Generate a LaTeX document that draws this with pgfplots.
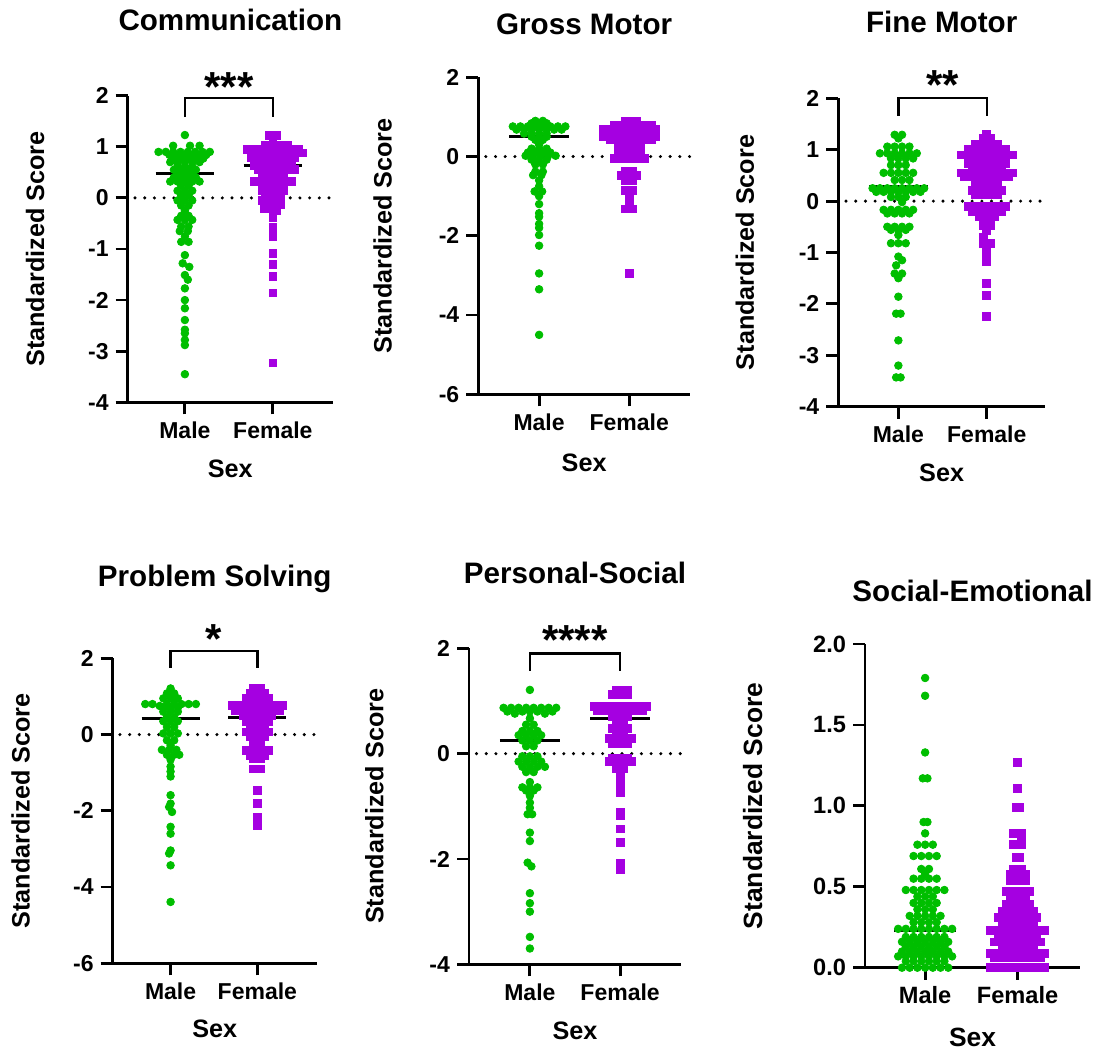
\documentclass[border=0pt]{standalone}
\usepackage{pgfplots}
\pgfplotsset{compat=1.18}
\usepackage{fontspec}
\setmainfont{Liberation Sans}
\definecolor{mgreen}{RGB}{0,190,0}
\definecolor{fpurple}{RGB}{165,0,225}
\pgfplotsset{
  sw/.style={
    scale only axis, anchor=south west,
    axis x line=bottom, axis y line=left,
    axis line style={line width=1.4pt,-},
    tick style={line width=1.4pt, black},
    major tick length=6pt, tick align=outside,
    xtick={0,12}, xticklabels={Male,Female},
    minor tick num=0,
    tick label style={font=\bfseries\fontsize{11.5}{13}\selectfont},
    xlabel={Sex}, ylabel={Standardized Score},
    label style={font=\bfseries\fontsize{12.6}{14}\selectfont},
    title style={font=\bfseries\fontsize{14.8}{17}\selectfont, anchor=base},
    ylabel style={anchor=center},
    xlabel style={anchor=base},
    clip=false,
  },
  male/.style={only marks, mark=*, mark size=1.9pt, color=mgreen, mark options={draw=mgreen, fill=mgreen}},
  female/.style={only marks, mark=square*, mark size=1.95pt, color=fpurple, mark options={draw=fpurple, fill=fpurple}},
  meanl/.style={black, line width=1.5pt, no marks},
}
\tikzset{
  zerol/.style={line width=1.7pt, dash pattern=on 0pt off 4.85pt, line cap=round},
  brk/.style={line width=1.25pt},
  stars/.style={font=\bfseries\fontsize{21}{22}\selectfont, anchor=center, yshift=-4.5pt},
}
\begin{document}
\begin{tikzpicture}
\useasboundingbox (0,0) rectangle (551pt,525pt);

% ---------- Communication ----------
\begin{axis}[sw, at={(63.85pt,323.85pt)}, width=102.65pt, height=153.3pt,
  xmin=-7.8, xmax=20.2, ymin=-4, ymax=2,
  ytick={-4,-3,-2,-1,0,1,2}, yticklabels={-4,-3,-2,-1,0,1,2},
  title={Communication}, title style={at={([yshift=26.35pt]axis description cs:0.5,1)}},
  ylabel style={at={([xshift=-46.3pt]axis description cs:0,0.5)}},
  xlabel style={at={([yshift=-37.5pt]axis description cs:0.5,0)}}]
\draw[zerol] (axis cs:-6.8,0) -- (axis cs:20.2,0);
\addplot[male] coordinates {
(0,1.23)
(-1.6,1.02) (0.7,1.02) (2,1.02)
(-3.6,0.9) (-2.6,0.9) (-1.6,0.9) (-0.6,0.9) (0.4,0.9) (1.4,0.9) (2.4,0.9) (3.4,0.9)
(-2.1,0.84) (-1.1,0.84) (-0.1,0.84) (0.9,0.84) (1.9,0.84) (2.9,0.84)
(-1.5,0.77) (-0.5,0.77) (0.5,0.77) (1.5,0.77) (2.5,0.77)
(-2,0.7) (-1,0.7) (0,0.7) (1,0.7) (2,0.7)
(-1,0.62) (0,0.62) (1,0.62)
(-1.5,0.55) (-0.5,0.55) (0.5,0.55) (1.5,0.55)
(-1,0.48) (0,0.48) (1,0.48)
(-1.5,0.4) (-0.5,0.4) (0.5,0.4) (1.5,0.4)
(-2,0.32) (-1,0.32) (0,0.32) (1,0.32) (2,0.32)
(-0.5,0.24) (0.5,0.24)
(-1,0.14) (0,0.14) (1,0.14)
(-0.5,0.05) (0.5,0.05)
(-1,-0.05) (0,-0.05) (1,-0.05)
(-0.5,-0.15) (0.5,-0.15)
(0,-0.25)
(-0.5,-0.35) (0.5,-0.35)
(-1,-0.43) (0,-0.43) (1,-0.43)
(-0.5,-0.56) (0.5,-0.56)
(-0.7,-0.65) (0.4,-0.65)
(0,-0.75)
(-0.5,-0.86) (0.5,-0.86)
(0,-1.12) (-0.3,-1.28) (0.6,-1.35) (0,-1.51) (0.4,-1.6) (0,-1.77) (0,-2.0) (0,-2.16) (0,-2.39) (0,-2.58) (0,-2.65) (0,-2.78) (0,-2.88) (0,-3.45)
};
\addplot[female] coordinates {
(11.5,1.22) (12.5,1.22) (12,1.12)
(11,1.02) (12,1.02) (13,1.02) (14,1.02)
(8.5,0.95) (9.5,0.95) (10.5,0.95) (11.5,0.95) (12.5,0.95) (13.5,0.95) (14.5,0.95) (15.5,0.95)
(9,0.88) (10,0.88) (11,0.88) (12,0.88) (13,0.88) (14,0.88) (15,0.88) (16,0.88)
(9,0.8) (10,0.8) (11,0.8) (12,0.8) (13,0.8) (14,0.8) (15,0.8)
(9.5,0.72) (10.5,0.72) (11.5,0.72) (12.5,0.72) (13.5,0.72) (14.5,0.72)
(9.5,0.64) (10.5,0.64) (11.5,0.64) (12.5,0.64) (13.5,0.64) (14.5,0.64)
(10,0.55) (11,0.55) (12,0.55) (13,0.55) (14,0.55) (15,0.55)
(10.5,0.45) (11.5,0.45) (12.5,0.45) (13.5,0.45)
(11,0.38) (12,0.38) (13,0.38)
(9.5,0.32) (10.5,0.32) (11.5,0.32) (12.5,0.32) (13.5,0.32) (14.5,0.32)
(11,0.22) (12,0.22) (13,0.22)
(10.5,0.15) (12.5,0.15) (13.5,0.15)
(11,0.05) (12,0.05) (13,0.05)
(10.5,-0.05) (11.5,-0.05) (12.5,-0.05)
(11,-0.12) (12,-0.12) (13,-0.12)
(10.8,-0.2) (11.8,-0.2) (12.5,-0.25)
(12,-0.38) (12,-0.58) (12,-0.65) (12,-0.75) (12,-1.08) (12,-1.3) (12,-1.53) (12,-1.86) (12,-3.23)
};
\addplot[meanl] coordinates {(-4,0.47) (4,0.47)};
\addplot[meanl] coordinates {(8,0.64) (16,0.64)};
\draw[brk] (axis cs:0,1.58) -- (axis cs:0,1.955) -- (axis cs:12,1.955) -- (axis cs:12,1.58);
\node[stars] at (axis cs:6,2.35) {***};
\end{axis}

% ---------- Gross Motor ----------
\begin{axis}[sw, at={(239.15pt,327.85pt)}, width=105.85pt, height=158.5pt,
  xmin=-8.1, xmax=20.1, ymin=-6, ymax=2,
  ytick={-6,-4,-2,0,2}, yticklabels={-6,-4,-2,0,2},
  title={Gross Motor}, title style={at={([yshift=15.15pt]axis description cs:0.5,1)}},
  ylabel style={at={([xshift=-47.8pt]axis description cs:0,0.5)}},
  xlabel style={at={([yshift=-38.7pt]axis description cs:0.5,0)}}]
\draw[zerol] (axis cs:-7.1,0) -- (axis cs:20.1,0);
\addplot[male] coordinates {
(-0.5,0.9) (0.5,0.9)
(-1,0.84) (0,0.84) (1,0.84)
(-3.5,0.76) (-2.5,0.76) (-1.5,0.76) (-0.5,0.76) (0.5,0.76) (1.5,0.76) (2.5,0.76) (3.5,0.76)
(-3,0.68) (-2,0.68) (-1,0.68) (0,0.68) (1,0.68) (2,0.68) (3,0.68)
(-2,0.58) (-1,0.58) (0,0.58) (1,0.58)
(-1,0.5) (0,0.5) (1,0.5)
(-0.5,0.42) (0.5,0.42)
(0,0.3)
(-1,0.2) (0,0.2) (1,0.2)
(-1.5,0.1) (-0.5,0.1) (0.5,0.1) (1.5,0.1)
(-1.8,0.02) (-0.8,0.02) (0.2,0.02) (1.2,0.02) (2.2,0.02)
(-1,-0.08) (0,-0.08) (1,-0.08)
(-0.5,-0.2) (0.5,-0.2)
(-0.5,-0.38) (0.5,-0.38)
(-0.8,-0.47) (0.3,-0.47)
(0,-0.6) (0,-0.75)
(-0.6,-0.88) (0.4,-0.88)
(0,-1.0) (0,-1.2) (0,-1.43) (0,-1.52) (0,-1.7) (0,-1.8) (0,-1.98) (0,-2.25) (0,-2.95) (0,-3.35) (0,-4.5)
};
\addplot[female] coordinates {
(11.5,0.9) (12.5,0.9) (13,0.9)
(10,0.8) (11,0.8) (12,0.8) (13,0.8) (14,0.8) (15,0.8)
(8.5,0.7) (9.5,0.7) (10.5,0.7) (11.5,0.7) (12.5,0.7) (13.5,0.7) (14.5,0.7) (15.5,0.7)
(8.5,0.6) (9.5,0.6) (10.5,0.6) (11.5,0.6) (12.5,0.6) (13.5,0.6) (14.5,0.6) (15.5,0.6)
(8.5,0.5) (9.5,0.5) (10.5,0.5) (11.5,0.5) (12.5,0.5) (13.5,0.5) (14.5,0.5) (15.5,0.5)
(9.5,0.42) (10.5,0.42) (11.5,0.42) (12.5,0.42) (13.5,0.42) (14.5,0.42) (15,0.42)
(11,0.33) (12,0.33) (13,0.33)
(10.5,0.2) (11.5,0.2) (12.5,0.2) (13.5,0.2)
(10.5,0.08) (11.5,0.08) (12.5,0.08) (13.5,0.08)
(10,-0.04) (11,-0.04) (12,-0.04) (13,-0.04) (14,-0.04)
(11.5,-0.38) (12.5,-0.38)
(11,-0.47) (12,-0.47) (13,-0.47)
(11.5,-0.6) (12.5,-0.6)
(11.5,-0.85) (12.5,-0.85)
(12,-0.93) (12,-1.15)
(11.5,-1.32) (12.5,-1.32)
(12,-2.95)
};
\addplot[meanl] coordinates {(-4,0.5) (4,0.5)};
\addplot[meanl] coordinates {(8,0.5) (16,0.5)};
\end{axis}

% ---------- Fine Motor ----------
\begin{axis}[sw, at={(419.15pt,321.65pt)}, width=103.35pt, height=154.2pt,
  xmin=-8.15, xmax=19.9, ymin=-4, ymax=2,
  ytick={-4,-3,-2,-1,0,1,2}, yticklabels={-4,-3,-2,-1,0,1,2},
  title={Fine Motor}, title style={at={([yshift=27.15pt]axis description cs:0.5,1)}},
  ylabel style={at={([xshift=-46.7pt]axis description cs:0,0.5)}},
  xlabel style={at={([yshift=-37.5pt]axis description cs:0.5,0)}}]
\draw[zerol] (axis cs:-7.1,0) -- (axis cs:19.9,0);
\addplot[male] coordinates {
(-0.5,1.29) (0.5,1.29) (0,1.22)
(-1.5,1.06) (-0.5,1.06) (0.5,1.06) (1.5,1.06)
(-2.5,0.93) (-1.5,0.93) (-0.5,0.93) (0.5,0.93) (1.5,0.93) (2.5,0.93)
(-1,0.83) (0,0.83) (1,0.83) (2,0.83)
(-1,0.7) (0,0.7) (1,0.7)
(-2,0.55) (-1,0.55) (0,0.55) (1,0.55) (2,0.55)
(-0.5,0.41) (0.5,0.41) (1.5,0.41)
(-3.5,0.25) (-2.5,0.25) (-1.5,0.25) (-0.5,0.25) (0.5,0.25) (1.5,0.25) (2.5,0.25) (3.5,0.25)
(-3,0.18) (-2,0.18) (-1,0.18) (0,0.18) (1,0.18) (2,0.18) (3,0.18)
(-1,0.08) (0,0.08) (1,0.08)
(0.5,-0.02)
(-2,-0.17) (-1,-0.17) (0,-0.17) (1,-0.17) (2,-0.17)
(-1.5,-0.24) (-0.5,-0.24) (0.5,-0.24) (1.5,-0.24)
(-1.5,-0.5) (-0.5,-0.5) (0.5,-0.5) (1.5,-0.5)
(-1,-0.56) (0,-0.56) (1,-0.56)
(0,-0.66)
(-1,-0.82) (0,-0.82) (1,-0.82)
(0,-1.08) (0.5,-1.15) (-0.3,-1.25)
(-0.5,-1.41) (0.5,-1.41) (0,-1.5)
(0,-1.86) (-0.3,-2.19) (0.3,-2.19) (0,-2.71) (0,-3.2) (-0.3,-3.43) (0.3,-3.43)
};
\addplot[female] coordinates {
(12,1.29) (11.5,1.22) (12.5,1.22)
(10.5,1.1) (11.5,1.1) (12.5,1.1) (13.5,1.1)
(9.5,1.0) (10.5,1.0) (11.5,1.0) (12.5,1.0) (13.5,1.0) (14.5,1.0)
(8.5,0.9) (9.5,0.9) (10.5,0.9) (11.5,0.9) (12.5,0.9) (13.5,0.9) (14.5,0.9) (15.5,0.9)
(9.5,0.74) (10.5,0.74) (11.5,0.74) (12.5,0.74) (13.5,0.74) (14.5,0.74)
(10,0.62) (11,0.62) (12,0.62) (13,0.62) (14,0.62)
(8.5,0.55) (9.5,0.55) (10.5,0.55) (11.5,0.55) (12.5,0.55) (13.5,0.55) (14.5,0.55) (15.5,0.55)
(9,0.47) (10,0.47) (11,0.47) (12,0.47) (13,0.47) (14,0.47) (15,0.47)
(10.5,0.34) (11.5,0.34) (12.5,0.34) (13.5,0.34)
(10,0.21) (11,0.21) (12,0.21) (13,0.21) (14,0.21)
(10.5,0.12) (11.5,0.12) (12.5,0.12) (13.5,0.12)
(9.5,-0.1) (10.5,-0.1) (11.5,-0.1) (12.5,-0.1) (13.5,-0.1) (14.5,-0.1)
(10,-0.2) (11,-0.2) (12,-0.2) (13,-0.2) (14,-0.2)
(11,-0.3) (12,-0.3) (13,-0.3)
(11.5,-0.47) (12.5,-0.47)
(12,-0.57) (11.5,-0.7) (11.5,-0.82) (12.5,-0.82)
(12,-0.95) (12,-1.05) (12,-1.18) (12,-1.6) (12,-1.83) (12,-2.25)
};
\addplot[meanl] coordinates {(-4,0.28) (4,0.28)};
\addplot[meanl] coordinates {(8,0.54) (16,0.54)};
\draw[brk] (axis cs:0,1.66) -- (axis cs:0,2.01) -- (axis cs:12,2.01) -- (axis cs:12,1.66);
\node[stars] at (axis cs:6,2.43) {**};
\end{axis}

% ---------- Problem Solving ----------
\begin{axis}[sw, at={(56.35pt,43.35pt)}, width=102pt, height=152.5pt,
  xmin=-8, xmax=20.2, ymin=-6, ymax=2,
  ytick={-6,-4,-2,0,2}, yticklabels={-6,-4,-2,0,2},
  title={Problem Solving}, title style={at={([yshift=29.8pt]axis description cs:0.5,1)}},
  ylabel style={at={([xshift=-46pt]axis description cs:0,0.5)}},
  xlabel style={at={([yshift=-37.3pt]axis description cs:0.5,0)}}]
\draw[zerol] (axis cs:-7,0) -- (axis cs:20.2,0);
\addplot[male] coordinates {
(0,1.21) (-0.5,1.08) (0.5,1.08)
(-1,0.95) (0,0.95) (1,0.95)
(-3.5,0.8) (-2.5,0.8) (-0.5,0.8) (0.5,0.8) (1.5,0.8) (2.5,0.8) (3.5,0.8)
(-1.5,0.75)
(-1,0.7) (0,0.7) (1,0.7)
(-1,0.6) (0,0.6) (1,0.6)
(-0.5,0.45) (0.5,0.45)
(-1,0.35) (0,0.35) (1,0.35)
(-0.5,0.2) (0.5,0.2)
(-1,0.03) (0,0.03) (1,0.03)
(-0.5,-0.15) (0.5,-0.15)
(0,-0.28)
(-1.2,-0.4) (-0.2,-0.4) (0.8,-0.4)
(-0.5,-0.53) (0.5,-0.53) (1.2,-0.53)
(0,-0.66) (0,-0.84) (0,-0.97) (0,-1.1)
(0,-1.59) (0,-1.81) (-0.2,-1.9) (0.2,-2.03) (0,-2.42) (0,-2.6) (0,-3.04) (-0.2,-3.12) (0,-3.43) (0,-4.39)
};
\addplot[female] coordinates {
(11.5,1.21) (12.5,1.21)
(11,1.08) (12,1.08) (13,1.08)
(10.5,0.95) (11.5,0.95) (12.5,0.95) (13.5,0.95)
(8.5,0.77) (9.5,0.77) (10.5,0.77) (11.5,0.77) (12.5,0.77) (13.5,0.77) (14.5,0.77) (15.5,0.77)
(9,0.64) (10,0.64) (11,0.64) (12,0.64) (13,0.64) (14,0.64) (15,0.64)
(10,0.5) (11,0.5) (12,0.5) (13,0.5) (14,0.5)
(11,0.4) (12,0.4) (13,0.4)
(10.5,0.33) (11.5,0.33) (12.5,0.33) (13.5,0.33)
(11,0.2) (12,0.2) (13,0.2)
(10.5,0.07) (11.5,0.07) (12.5,0.07) (13.5,0.07)
(11,-0.06) (12,-0.06) (13,-0.06)
(11.5,-0.24) (12.5,-0.24)
(10.5,-0.41) (11.5,-0.41) (12.5,-0.41) (13.5,-0.41)
(11,-0.54) (12,-0.54) (13,-0.54)
(11.5,-0.63) (12.5,-0.63)
(11.5,-0.9) (12.5,-0.9)
(12,-1.46) (12,-1.81) (12,-2.16) (12,-2.38)
};
\addplot[meanl] coordinates {(-4,0.42) (4,0.42)};
\addplot[meanl] coordinates {(8,0.46) (16,0.46)};
\draw[brk] (axis cs:0,1.75) -- (axis cs:0,2.19) -- (axis cs:12,2.19) -- (axis cs:12,1.75);
\node[stars] at (axis cs:6,2.74) {*};
\end{axis}

% ---------- Personal-Social ----------
\begin{axis}[sw, at={(234.5pt,42.85pt)}, width=106pt, height=158pt,
  xmin=-8.1, xmax=20.1, ymin=-4, ymax=2,
  ytick={-4,-2,0,2}, yticklabels={-4,-2,0,2},
  title={Personal-Social}, title style={at={([yshift=26.5pt]axis description cs:0.5,1)}},
  ylabel style={at={([xshift=-47.3pt]axis description cs:0,0.5)}},
  xlabel style={at={([yshift=-37.8pt]axis description cs:0.5,0)}}]
\draw[zerol] (axis cs:-7.1,0) -- (axis cs:20.1,0);
\addplot[male] coordinates {
(0,1.21)
(-3.5,0.87) (-2.5,0.87) (-1.5,0.87) (-0.5,0.87) (0.5,0.87) (1.5,0.87) (2.5,0.87) (3.5,0.87)
(-3,0.8) (-1,0.8) (0,0.8) (1,0.8) (3,0.8)
(-2,0.76) (2,0.76)
(0,0.67)
(-0.5,0.55) (0.5,0.55)
(-1,0.43) (0,0.43) (1,0.43)
(-1.5,0.35) (-0.5,0.35) (0.5,0.35) (1.5,0.35)
(-1,0.25) (0,0.25) (1,0.25)
(-0.5,0.14) (0.5,0.14)
(-1,-0.05) (0,-0.05) (1,-0.05)
(-1.5,-0.15) (-0.5,-0.15) (0.5,-0.15) (1.5,-0.15)
(-1,-0.25) (0,-0.25) (1,-0.25) (2,-0.25)
(-0.5,-0.35) (0.5,-0.35)
(0,-0.54)
(-1,-0.64) (0,-0.64) (1,-0.64)
(-0.5,-0.7) (0.5,-0.7)
(0,-0.8) (0,-0.93) (0,-1.03)
(-0.3,-1.15) (0.3,-1.15)
(0,-1.5) (0,-1.66) (-0.3,-2.07) (0.2,-2.14) (0,-2.65) (0,-2.84) (0,-3.0) (0,-3.48) (0,-3.7)
};
\addplot[female] coordinates {
(11.5,1.21) (12.5,1.21) (13,1.21)
(11,1.12) (12,1.12) (13,1.12)
(8.5,0.9) (9.5,0.9) (10.5,0.9) (11.5,0.9) (12.5,0.9) (13.5,0.9) (14.5,0.9) (15.5,0.9)
(9,0.82) (10,0.82) (11,0.82) (12,0.82) (13,0.82) (14,0.82) (15,0.82)
(11,0.7) (12,0.7) (13,0.7)
(11.5,0.57) (12.5,0.57)
(11,0.48) (12,0.48) (13,0.48)
(11.5,0.38) (12.5,0.38)
(10.5,0.29) (11.5,0.29) (12.5,0.29) (13.5,0.29)
(11,0.2) (12,0.2) (13,0.2)
(11,-0.09) (12,-0.09) (13,-0.09)
(10.5,-0.15) (11.5,-0.15) (12.5,-0.15) (13.5,-0.15)
(11.5,-0.28) (12.5,-0.28)
(12,-0.44) (12,-0.6) (12,-0.73) (12,-1.11) (12,-1.17) (12,-1.43) (12,-1.68) (12,-2.08) (12,-2.2)
};
\addplot[meanl] coordinates {(-4,0.25) (4,0.25)};
\addplot[meanl] coordinates {(8,0.67) (16,0.67)};
\draw[brk] (axis cs:0,1.575) -- (axis cs:0,1.905) -- (axis cs:12,1.905) -- (axis cs:12,1.575);
\node[stars] at (axis cs:6,2.32) {****};
\end{axis}

% ---------- Social-Emotional ----------
\begin{axis}[sw, at={(432.5pt,41.15pt)}, width=107.5pt, height=161.85pt,
  xmin=-7.8, xmax=20.1, ymin=0, ymax=2,
  ytick={0,0.5,1,1.5,2}, yticklabels={0.0,0.5,1.0,1.5,2.0},
  tick label style={font=\bfseries\fontsize{11.8}{13}\selectfont},
  label style={font=\bfseries\fontsize{13.2}{15}\selectfont},
  title={Social-Emotional}, title style={at={([yshift=15.15pt]axis description cs:0.5,1)}},
  ylabel style={at={([xshift=-56.2pt]axis description cs:0,0.5)}},
  xlabel style={at={([yshift=-39.5pt]axis description cs:0.5,0)}}]
\addplot[male] coordinates {
(0,1.79) (0,1.68) (0,1.33) (-0.3,1.17) (0.3,1.17)
(-0.2,0.9) (0.3,0.9) (0,0.83)
(-1,0.76) (0,0.76) (1,0.76)
(-1.5,0.69) (-0.5,0.69) (0.5,0.69) (1.5,0.69)
(-0.5,0.61) (0.5,0.61) (0,0.58)
(-1.5,0.55) (-0.5,0.55) (0.5,0.55) (1.5,0.55)
(-2.5,0.48) (-1.5,0.48) (-0.5,0.48) (0.5,0.48) (1.5,0.48) (2.5,0.48)
(-1,0.44) (0,0.44) (1,0.44)
(-1.5,0.4) (-0.5,0.4) (0.5,0.4) (1.5,0.4)
(-1,0.36) (0,0.36) (1,0.36)
(-2,0.32) (-1,0.32) (0,0.32) (1,0.32) (2,0.32)
(-1.5,0.28) (-0.5,0.28) (0.5,0.28) (1.5,0.28)
(-3.5,0.24) (-2.5,0.24) (-1.5,0.24) (-0.5,0.24) (0.5,0.24) (1.5,0.24) (2.5,0.24) (3.5,0.24)
(-2.5,0.19) (-1.5,0.19) (-0.5,0.19) (0.5,0.19) (1.5,0.19) (2.5,0.19)
(-3,0.16) (-2,0.16) (-1,0.16) (0,0.16) (1,0.16) (2,0.16) (3,0.16)
(-2.5,0.13) (-1.5,0.13) (-0.5,0.13) (0.5,0.13) (1.5,0.13) (2.5,0.13)
(-3,0.1) (-2,0.1) (-1,0.1) (0,0.1) (1,0.1) (2,0.1) (3,0.1)
(-3.5,0.07) (-2.5,0.07) (-1.5,0.07) (-0.5,0.07) (0.5,0.07) (1.5,0.07) (2.5,0.07) (3.5,0.07)
(-2.5,0.04) (-1.5,0.04) (-0.5,0.04) (0.5,0.04) (1.5,0.04) (2.5,0.04)
(-3,0) (-2,0) (-1,0) (0,0) (1,0) (2,0) (3,0)
};
\addplot[female] coordinates {
(12,1.27) (12,1.11) (11.8,0.99) (12.2,0.99)
(11.5,0.83) (12.5,0.83) (12.5,0.8)
(11.5,0.76) (12.5,0.76)
(11.8,0.68) (12.2,0.68)
(11.5,0.61) (12.5,0.61)
(11,0.58) (12,0.58) (13,0.58)
(11,0.54) (12,0.54) (13,0.54)
(10.5,0.47) (11.5,0.47) (12.5,0.47) (13.5,0.47)
(11,0.43) (12,0.43) (13,0.43)
(10.5,0.39) (11.5,0.39) (12.5,0.39) (13.5,0.39)
(10,0.35) (11,0.35) (12,0.35) (13,0.35) (14,0.35)
(9.5,0.31) (10.5,0.31) (11.5,0.31) (12.5,0.31) (13.5,0.31) (14.5,0.31)
(10,0.28) (11,0.28) (12,0.28) (13,0.28) (14,0.28)
(8.5,0.23) (9.5,0.23) (10.5,0.23) (11.5,0.23) (12.5,0.23) (13.5,0.23) (14.5,0.23) (15.5,0.23)
(9.5,0.19) (10.5,0.19) (11.5,0.19) (12.5,0.19) (13.5,0.19) (14.5,0.19)
(9,0.16) (10,0.16) (11,0.16) (12,0.16) (13,0.16) (14,0.16) (15,0.16)
(10,0.13) (11,0.13) (12,0.13) (13,0.13) (14,0.13)
(8.5,0.09) (9.5,0.09) (10.5,0.09) (11.5,0.09) (12.5,0.09) (13.5,0.09) (14.5,0.09) (15.5,0.09)
(9,0.06) (10,0.06) (11,0.06) (12,0.06) (13,0.06) (14,0.06) (15,0.06)
(8.5,0) (9.5,0) (10.5,0) (11.5,0) (12.5,0) (13.5,0) (14.5,0) (15.5,0)
};
\addplot[meanl] coordinates {(-4,0.23) (4,0.23)};
\addplot[meanl] coordinates {(8,0.22) (16,0.22)};
\end{axis}
\end{tikzpicture}
\end{document}
